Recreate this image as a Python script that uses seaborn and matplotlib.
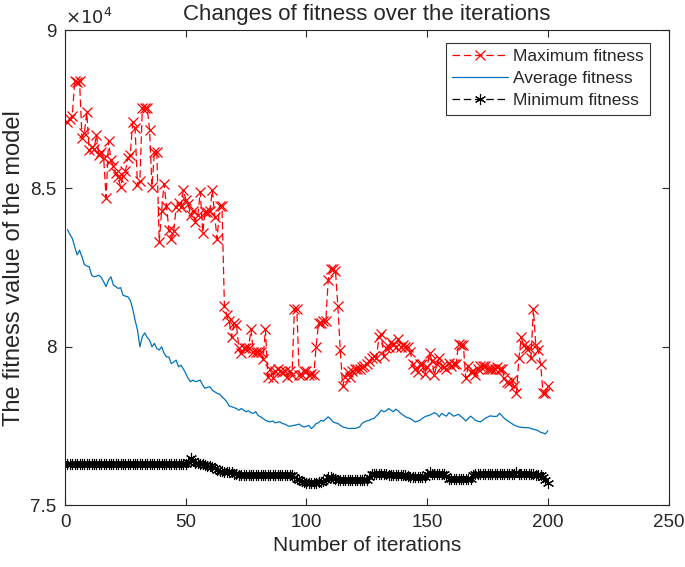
"""
Fitness over iterations - MATLAB-style recreation with seaborn.
"""

import numpy as np
import pandas as pd
import matplotlib
matplotlib.use("Agg")
import matplotlib.pyplot as plt
from matplotlib.ticker import FuncFormatter
import seaborn as sns

# iterations 1..200
iterations = list(range(1, 201))

max_fitness = [
    87100, 87200, 87300, 88400, 88350, 88400, 86600, 86750, 87400, 86200,
    86300, 86250, 86700, 86050, 86150, 85950, 84700, 86500, 85900, 85700,
    85500, 85350, 85050, 85400, 85550, 85950, 86050, 87100, 86900, 85100,
    85250, 87550, 87550, 87550, 86850, 85050, 86150, 86150, 83300, 84300,
    85150, 84450, 83700, 83400, 83650, 84400, 84550, 84400, 84950, 84650,
    84500, 84150, 84300, 83950, 84150, 84900, 83600, 84250, 84250, 84300,
    84950, 84100, 83400, 84450, 84450, 81300, 81000, 80800, 80300, 80750,
    80700, 79950, 79800, 79950, 79950, 79950, 80550, 79850, 79850, 79850,
    79850, 79600, 80550, 79050, 79300, 79000, 79250, 79300, 79250, 79200,
    79250, 79050, 79250, 79100, 81200, 81200, 79100, 79100, 79250, 79250,
    79100, 79150, 79100, 80000, 80750, 80750, 80800, 80800, 82100, 82450,
    82450, 82400, 81300, 79900, 78750, 79050, 79200, 79050, 79250, 79300,
    79300, 79300, 79350, 79400, 79450, 79550, 79650, 79700, 79650, 80300,
    80400, 79700, 79950, 80000, 80150, 80050, 80000, 80250, 80000, 80050,
    80000, 80000, 79850, 79450, 79300, 79200, 79450, 79450, 79150, 79350,
    79800, 79550, 79100, 79450, 79650, 79400, 79350, 79300, 79500, 79400,
    79450, 79450, 80100, 80050, 80050, 79000, 79400, 79200, 79250, 79100,
    79300, 79400, 79400, 79400, 79300, 79300, 79300, 79300, 79350, 79300,
    79300, 79000, 78900, 78850, 78950, 78750, 78550, 79650, 80300, 80050,
    79950, 79950, 79650, 81200, 80050, 79900, 79450, 78550, 78550, 78750,
]

avg_fitness = [
    83700, 83550, 83420, 83160, 82900, 83050, 82840, 82600, 82550, 82530,
    82260, 82210, 82230, 82260, 82190, 82050, 81900, 82110, 82210, 81950,
    81900, 81840, 81870, 81630, 81600, 81580, 81470, 81200, 80840, 80530,
    80000, 80320, 80440, 80300, 80210, 80000, 80110, 79950, 79900, 80000,
    79800, 79680, 79680, 79470, 79520, 79580, 79370, 79420, 79300, 79160,
    79000, 78900, 78950, 78900, 78920, 78950, 78790, 78690, 78720, 78740,
    78630, 78580, 78530, 78510, 78420, 78350, 78260, 78130, 78110, 78080,
    78050, 78000, 78050, 78000, 77950, 77980, 77920, 77900, 77950, 77830,
    77790, 77740, 77680, 77650, 77630, 77660, 77600, 77620, 77630, 77580,
    77560, 77520, 77490, 77510, 77520, 77540, 77560, 77500, 77470, 77490,
    77520, 77420, 77480, 77580, 77600, 77680, 77650, 77720, 77790, 77720,
    77630, 77600, 77580, 77520, 77470, 77450, 77430, 77420, 77430, 77420,
    77440, 77470, 77580, 77630, 77660, 77680, 77720, 77740, 77820, 77900,
    78000, 77950, 77980, 78050, 78000, 77950, 78030, 77980, 77900, 77850,
    77790, 77760, 77740, 77680, 77630, 77650, 77680, 77740, 77790, 77820,
    77840, 77880, 77920, 77880, 77790, 77900, 77850, 77810, 77920, 77870,
    77810, 77840, 77870, 77800, 77740, 77660, 77740, 77810, 77750, 77680,
    77650, 77630, 77680, 77740, 77780, 77820, 77810, 77800, 77810, 77900,
    77820, 77740, 77680, 77630, 77580, 77530, 77500, 77470, 77460, 77450,
    77450, 77450, 77420, 77400, 77380, 77350, 77300, 77280, 77250, 77350,
]

min_fitness = [
    76300, 76300, 76300, 76300, 76300, 76300, 76300, 76300, 76300, 76300,
    76300, 76300, 76300, 76300, 76300, 76300, 76300, 76300, 76300, 76300,
    76300, 76300, 76300, 76300, 76300, 76300, 76300, 76300, 76300, 76300,
    76300, 76300, 76300, 76300, 76300, 76300, 76300, 76300, 76300, 76300,
    76300, 76300, 76300, 76300, 76300, 76300, 76300, 76300, 76300, 76300,
    76350, 76480, 76400, 76330, 76320, 76310, 76300, 76280, 76250, 76230,
    76210, 76180, 76100, 76090, 76080, 76060, 76050, 76050, 76040, 76000,
    75980, 75960, 75950, 75950, 75950, 75950, 75950, 75950, 75950, 75950,
    75950, 75950, 75950, 75950, 75950, 75950, 75950, 75950, 75950, 75950,
    75950, 75950, 75950, 75950, 75900, 75820, 75790, 75750, 75720, 75700,
    75690, 75690, 75690, 75700, 75720, 75740, 75750, 75800, 75880, 75900,
    75860, 75820, 75790, 75790, 75790, 75790, 75790, 75790, 75790, 75790,
    75790, 75790, 75790, 75790, 75790, 75900, 76000, 75980, 75980, 75980,
    75970, 75970, 75970, 75960, 75960, 75960, 75960, 75950, 75950, 75950,
    75950, 75920, 75900, 75900, 75900, 75900, 75900, 75900, 75900, 76000,
    76050, 76000, 76000, 76000, 76000, 76000, 76000, 75920, 75840, 75840,
    75840, 75840, 75840, 75840, 75840, 75840, 75840, 75840, 75950, 76000,
    76000, 76000, 76000, 76000, 76000, 76000, 76000, 76000, 76000, 76000,
    76000, 76000, 76000, 76000, 76000, 76000, 76050, 76000, 76000, 76000,
    76000, 76000, 76000, 75980, 75960, 75950, 75950, 75900, 75800, 75700,
]

series_labels = ["Maximum fitness", "Average fitness", "Minimum fitness"]

df = pd.DataFrame({
    "iteration": iterations,
    series_labels[0]: max_fitness,
    series_labels[1]: avg_fitness,
    series_labels[2]: min_fitness,
})

sns.set_style("ticks")
plt.rcParams["font.family"] = ["Liberation Sans", "DejaVu Sans"]

fig = plt.figure(figsize=(6.85, 5.67), dpi=100)
ax = fig.add_axes([0.095, 0.109, 0.881, 0.838])

# asterisk marker like MATLAB's '*'
asterisk = (6, 2, 0)

sns.lineplot(data=df, x="iteration", y=series_labels[0], ax=ax, color="red",
             linestyle=(0, (6, 3)), linewidth=0.9, marker="x", markersize=7.5,
             markeredgewidth=0.9, markeredgecolor="red", label=series_labels[0])
sns.lineplot(data=df, x="iteration", y=series_labels[1], ax=ax, color="#0072BD",
             linewidth=0.9, label=series_labels[1])
sns.lineplot(data=df, x="iteration", y=series_labels[2], ax=ax, color="black",
             linestyle=(0, (6, 3)), linewidth=0.9, marker=asterisk, markersize=8,
             markeredgewidth=0.8, markeredgecolor="black",
             markerfacecolor="black", label=series_labels[2])

ax.set_xlim(0, 250)
ax.set_ylim(75000, 90000)
ax.set_xticks([0, 50, 100, 150, 200, 250])
ax.set_yticks([75000, 80000, 85000, 90000])
ax.yaxis.set_major_formatter(FuncFormatter(lambda v, p: f"{v / 1e4:g}"))
ax.tick_params(direction="in", top=True, right=True, labelsize=13.5, length=5,
               width=0.8, pad=6)
for s in ax.spines.values():
    s.set_visible(True)
    s.set_linewidth(0.8)

ax.text(0.0, 1.005, r"$\times 10^4$", transform=ax.transAxes, fontsize=13,
        ha="left", va="bottom", family="DejaVu Sans")
ax.set_title("Changes of fitness over the iterations", fontsize=16, pad=7)
ax.set_xlabel("Number of iterations", fontsize=15)
ax.set_ylabel("The fitness value of the model", fontsize=17)

leg = ax.legend(loc="upper right", bbox_to_anchor=(0.975, 0.98), fontsize=12.5,
                frameon=True, fancybox=False, edgecolor="black",
                handlelength=3.2, borderpad=0.35, labelspacing=0.4,
                handletextpad=0.3, borderaxespad=0.2)
leg.get_frame().set_linewidth(0.8)

fig.savefig("out.png", dpi=100)
plt.close(fig)
